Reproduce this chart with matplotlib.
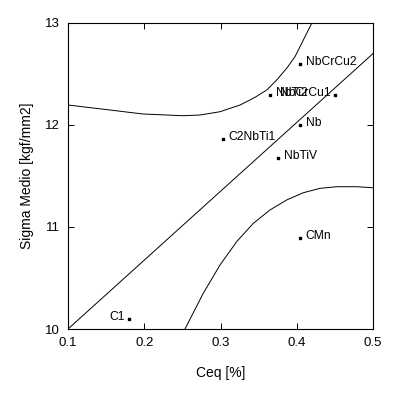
import matplotlib
matplotlib.use("Agg")
import numpy as np
import matplotlib.pyplot as plt

plt.rcParams['font.family'] = ['Liberation Sans', 'DejaVu Sans']
plt.rcParams['font.size'] = 8

# regression line (end points)
fit_x = [0.1, 0.5]
fit_y = [10.0, 12.7]

# upper band
up_x = [0.1, 0.155, 0.198, 0.251, 0.2731, 0.2993, 0.3256, 0.3452, 0.3606, 0.3737,
        0.3868, 0.3977, 0.4065, 0.413, 0.4196]
up_y = [12.196, 12.147, 12.108, 12.091, 12.098, 12.13, 12.196, 12.271, 12.343, 12.441,
        12.556, 12.67, 12.801, 12.899, 12.997]

# lower band
lo_x = [0.2534, 0.2774, 0.2993, 0.3212, 0.343, 0.3649, 0.3868, 0.4086, 0.4305, 0.4524, 0.4786, 0.5]
lo_y = [10.0, 10.35, 10.627, 10.856, 11.036, 11.167, 11.265, 11.336, 11.379, 11.395, 11.395, 11.385]

# steels
names = ['C1', 'C2NbTi1', 'NbTiV', 'Nb', 'NbCrCu2', 'NbTi2', 'NbCrCu1', 'CMn']
ceq = [0.18, 0.303, 0.376, 0.404, 0.404, 0.365, 0.45, 0.404]
sigma = [10.10, 11.86, 11.68, 12.0, 12.6, 12.29, 12.29, 10.89]
left_label = ['C1', 'NbCrCu1']

fig = plt.figure(figsize=(3.97, 3.97), dpi=100)
ax = fig.add_axes([68 / 397, 1 - 329 / 397, 305 / 397, 306 / 397])

ax.plot(fit_x, fit_y, color='black', lw=0.7)
ax.plot(up_x, up_y, color='black', lw=0.7)
ax.plot(lo_x, lo_y, color='black', lw=0.7)

ax.scatter(ceq, sigma, s=2, marker='s', color='black', zorder=3)
for n, x, y in zip(names, ceq, sigma):
    if n in left_label:
        ax.annotate(n, (x, y), xytext=(-4, -1), textcoords='offset pixels',
                    ha='right', va='baseline', fontsize=8.7)
    else:
        ax.annotate(n, (x, y), xytext=(6, -1), textcoords='offset pixels',
                    ha='left', va='baseline', fontsize=8.7)

ax.set_xlim(0.1, 0.5)
ax.set_ylim(10, 13)
ax.set_xticks([0.1, 0.2, 0.3, 0.4, 0.5])
ax.set_xticklabels(['0.1', '0.2', '0.3', '0.4', '0.5'])
ax.set_yticks([10, 11, 12, 13])
ax.tick_params(direction='in', length=4.5, width=0.7, top=True, right=True,
               labelsize=9.5, pad=6)
for s in ax.spines.values():
    s.set_linewidth(0.8)

ax.set_xlabel('Ceq [%]', fontsize=10, labelpad=12)
ax.set_ylabel('Sigma Medio [kgf/mm2]', fontsize=10, labelpad=8)

plt.savefig("out.png", dpi=100)
